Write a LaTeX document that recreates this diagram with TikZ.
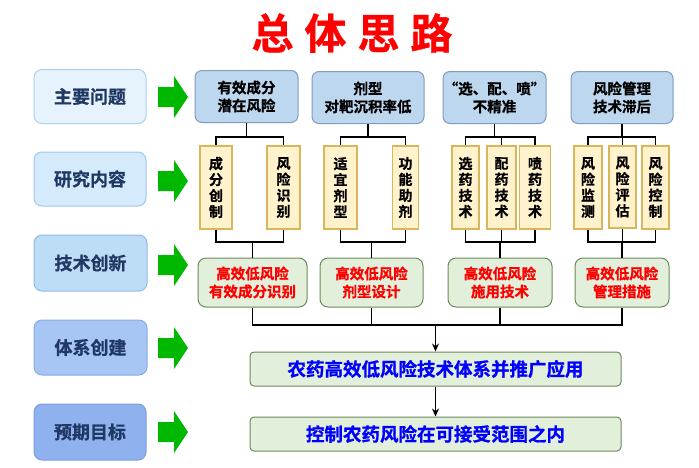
\documentclass[tikz,border=0pt]{standalone}
\usepackage{fontspec}
\setmainfont{Noto Sans CJK SC}[BoldFont={* Bold}, BoldFeatures={FakeBold=0.8}]
\usetikzlibrary{arrows.meta}
\definecolor{lf1}{HTML}{E6F3FC}\definecolor{ld1}{HTML}{A9D0EF}
\definecolor{lf2}{HTML}{D5EAFA}\definecolor{ld2}{HTML}{9EC8EE}
\definecolor{lf3}{HTML}{BDDCF6}\definecolor{ld3}{HTML}{8FBBE8}
\definecolor{lf4}{HTML}{A7C6F3}\definecolor{ld4}{HTML}{87ACE6}
\definecolor{lf5}{HTML}{8FB2EE}\definecolor{ld5}{HTML}{7A9EE0}
\definecolor{navy}{HTML}{1F3864}
\definecolor{tfill}{HTML}{BDD7EE}\definecolor{tdraw}{HTML}{7E9CC4}
\definecolor{sfill}{HTML}{FFF2CC}\definecolor{sdraw}{HTML}{D9B65A}
\definecolor{gfill}{HTML}{E2EFDA}\definecolor{gdraw}{HTML}{6B8A5C}
\definecolor{agreen}{HTML}{00B800}
\begin{document}
\begin{tikzpicture}[x=1pt,y=-1pt,
  leftbox/.style={line width=1pt, rounded corners=8pt, minimum width=112pt, minimum height=54pt, inner sep=0pt, text=navy, font=\fontsize{18}{20}\selectfont\bfseries},
  topbox/.style={fill=tfill, draw=tdraw, line width=1pt, rounded corners=7pt, minimum height=52pt, inner sep=0pt, align=center, font=\fontsize{14.5}{18}\selectfont\bfseries},
  subbox/.style={fill=sfill, draw=sdraw, line width=1.2pt, minimum width=32pt, minimum height=83pt, inner sep=0pt, align=center, font=\fontsize{14}{16}\selectfont\bfseries},
  greenbox/.style={fill=gfill, draw=gdraw, line width=1pt, rounded corners=8pt, minimum height=49pt, inner sep=0pt, align=center, text=red, font=\fontsize{14.5}{18}\selectfont\bfseries},
  bigbox/.style={fill=gfill, draw=gdraw, line width=1pt, rounded corners=4pt, minimum width=371pt, minimum height=34pt, inner sep=0pt, text=blue, font=\fontsize{18.5}{20}\selectfont\bfseries},
  conn/.style={line width=1.6pt, black},
  garrow/.pic={\fill[agreen] (-15,-10) -- (1,-10) -- (1,-21) -- (15,0) -- (1,21) -- (1,10) -- (-15,10) -- cycle;}
]
\useasboundingbox (0,0) rectangle (699,467);
% title
\node[text=red, font=\fontsize{42}{46}\selectfont\bfseries] (title) at (352,33) {总\hspace{11pt}体\hspace{11pt}思\hspace{11pt}路};
% left column
\node[leftbox, fill=lf1, draw=ld1] (l1) at (90,96.5) {主要问题};
\node[leftbox, fill=lf2, draw=ld2] (l2) at (90,179) {研究内容};
\node[leftbox, fill=lf3, draw=ld3, minimum width=113pt, minimum height=56pt] (l3) at (90.5,263) {技术创新};
\node[leftbox, fill=lf4, draw=ld4, minimum width=113pt, minimum height=55pt] (l4) at (90.5,347.5) {体系创建};
\node[leftbox, fill=lf5, draw=ld5, minimum height=56pt] (l5) at (90,432) {预期目标};
% green arrows
\pic at (173,97) {garrow};
\pic at (173,181) {garrow};
\pic at (173,265) {garrow};
\pic at (173,348) {garrow};
\pic at (173,432) {garrow};
% top boxes
\node[topbox, minimum width=103pt] (t1) at (246.5,96.5) {有效成分\\潜在风险};
\node[topbox, minimum width=112pt] (t2) at (368,97.5) {剂型\\对靶沉积率低};
\node[topbox, minimum width=103pt] (t3) at (494.5,97.5) {“选、配、喷”\\不精准};
\node[topbox, minimum width=102pt] (t4) at (622,97.5) {风险管理\\技术滞后};
% sub boxes
\node[subbox] (s11) at (216,187.5) {成\\分\\创\\制};
\node[subbox, minimum width=33pt] (s12) at (283.5,187.5) {风\\险\\识\\别};
\node[subbox, minimum width=33pt] (s21) at (340.5,187.5) {适\\宜\\剂\\型};
\node[subbox, minimum width=26pt] (s22) at (405.5,187.5) {功\\能\\助\\剂};
\node[subbox, minimum width=27pt] (s31) at (465.5,187.5) {选\\药\\技\\术};
\node[subbox, minimum width=29pt] (s32) at (501.5,187.5) {配\\药\\技\\术};
\node[subbox, minimum width=31pt] (s33) at (535,187.5) {喷\\药\\技\\术};
\node[subbox, minimum width=28pt] (s41) at (588,187.5) {风\\险\\监\\测};
\node[subbox, minimum width=27pt, minimum height=82pt] (s42) at (622.5,187) {风\\险\\评\\估};
\node[subbox, minimum width=27pt] (s43) at (655.5,187.5) {风\\险\\控\\制};
% green boxes
\node[greenbox, minimum width=109pt] (g1) at (252.5,282.5) {高效低风险\\有效成分识别};
\node[greenbox, minimum width=103pt] (g2) at (371.5,282.5) {高效低风险\\剂型设计};
\node[greenbox, minimum width=104pt] (g3) at (500,282.5) {高效低风险\\施用技术};
\node[greenbox, minimum width=94pt] (g4) at (622,282.5) {高效低风险\\管理措施};
% big boxes
\node[bigbox] (b1) at (435.5,369) {农药高效低风险技术体系并推广应用};
\node[bigbox] (b2) at (435.5,434) {控制农药风险在可接受范围之内};
% bar levels
\coordinate (ra) at (0,137);
\coordinate (rb) at (0,242);
\coordinate (rc) at (0,325);
% top connectors
\draw[conn] (t1.south) -- (t1.south |- ra);
\draw[conn] (s11.north) -- (s11.north |- ra) -- (s12.north |- ra) -- (s12.north);
\draw[conn] (t2.south) -- (t2.south |- ra);
\draw[conn] (s21.north) -- (s21.north |- ra) -- (s22.north |- ra) -- (s22.north);
\draw[conn] (t3.south) -- (t3.south |- ra);
\draw[conn] (s31.north) -- (s31.north |- ra) -- (s33.north |- ra) -- (s33.north);
\draw[conn] (s32.north) -- (s32.north |- ra);
\draw[conn] (t4.south) -- (t4.south |- ra);
\draw[conn] (s41.north) -- (s41.north |- ra) -- (s43.north |- ra) -- (s43.north);
\draw[conn] (s42.north) -- (s42.north |- ra);
% bottom connectors to green boxes
\draw[conn] (s11.south) -- (s11.south |- rb) -- (s12.south |- rb) -- (s12.south);
\draw[conn] (g1.north) -- (g1.north |- rb);
\draw[conn] (s21.south) -- (s21.south |- rb) -- (s22.south |- rb) -- (s22.south);
\draw[conn] (g2.north) -- (g2.north |- rb);
\draw[conn] (s31.south) -- (s31.south |- rb) -- (s33.south |- rb) -- (s33.south);
\draw[conn] (s32.south) -- (s32.south |- rb);
\draw[conn] (g3.north) -- (g3.north |- rb);
\draw[conn] (s41.south) -- (s41.south |- rb) -- (s43.south |- rb) -- (s43.south);
\draw[conn] (s42.south) -- (s42.south |- rb);
\draw[conn] (g4.north) -- (g4.north |- rb);
% green boxes to big box
\draw[conn] (g1.south) -- (g1.south |- rc) -- (g4.south |- rc) -- (g4.south);
\draw[conn] (g2.south) -- (g2.south |- rc);
\draw[conn] (g3.south) -- (g3.south |- rc);
\draw[conn, -{Stealth[length=8pt,width=7pt]}] (b1.north |- rc) -- (b1.north);
\draw[conn, -{Stealth[length=8pt,width=7pt]}] (b1.south) -- (b2.north);
\end{tikzpicture}
\end{document}
